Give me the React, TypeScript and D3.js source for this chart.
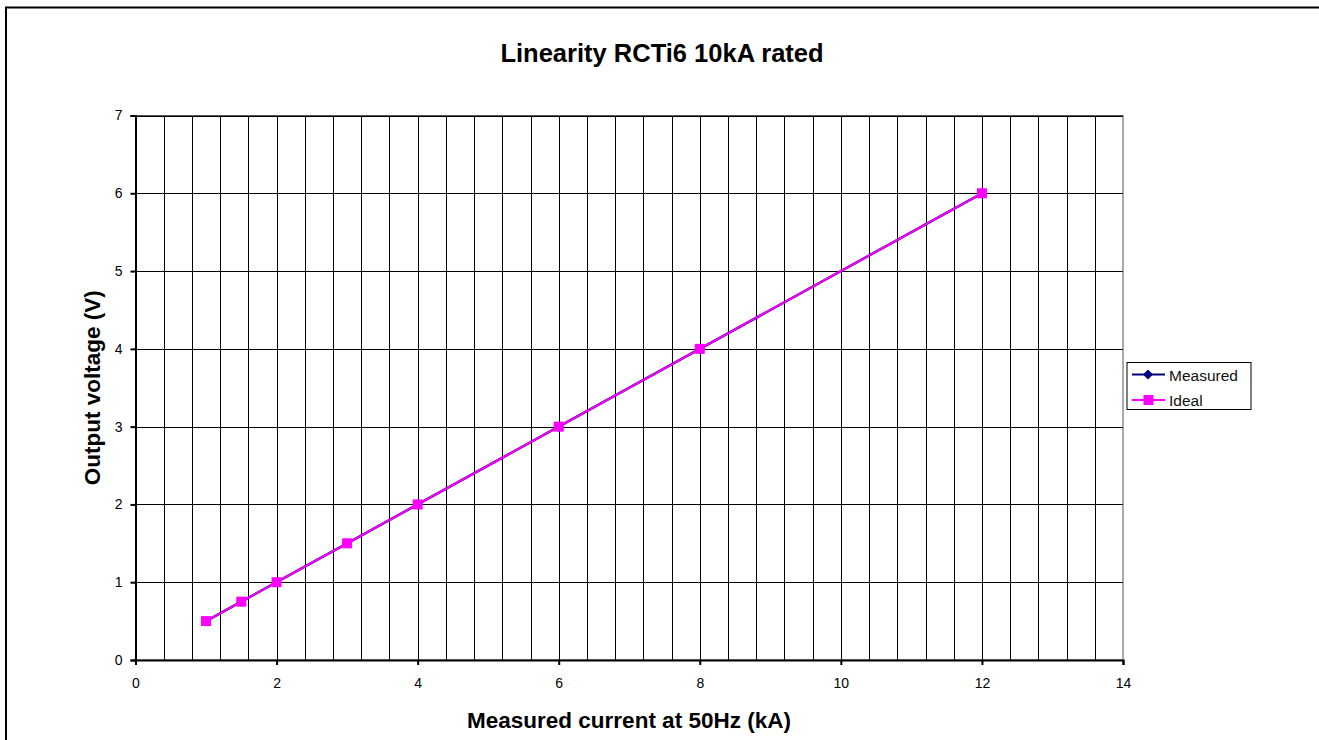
import React, { useEffect, useRef } from "react";
import * as d3 from "d3";

const currentKA = [1, 1.5, 2, 3, 4, 6, 8, 12];
const measuredV = [0.5, 0.75, 1, 1.5, 2, 3, 4, 6];
const idealV = [0.5, 0.75, 1, 1.5, 2, 3, 4, 6];
const xTicks = [0, 2, 4, 6, 8, 10, 12, 14];
const yTicks = [0, 1, 2, 3, 4, 5, 6, 7];
const seriesNames = ["Measured", "Ideal"];

const App = () => {
  const svgRef = useRef<SVGSVGElement>(null);

  useEffect(() => {
    const svg = d3.select(svgRef.current);
    svg.selectAll("*").remove();

    const W = 1319, H = 740;
    const left = 135.5, right = 1123, top = 115.5, bottom = 660;
    const font = "Liberation Sans, Arial, sans-serif";

    // outer frame (right and bottom edges run off the picture)
    svg.append("rect")
      .attr("x", 6).attr("y", 7.5).attr("width", W + 20).attr("height", H + 20)
      .attr("fill", "white").attr("stroke", "black").attr("stroke-width", 2);

    const x = d3.scaleLinear().domain([0, 14]).range([left, right]);
    const y = d3.scaleLinear().domain([0, 7]).range([bottom, top]);

    // vertical grid every 0.4
    const vGrid = d3.range(1, 35).map((i) => i * 0.4);
    svg.append("g").selectAll("line").data(vGrid).enter().append("line")
      .attr("x1", (d) => Math.round(x(d)) + 0.5).attr("x2", (d) => Math.round(x(d)) + 0.5)
      .attr("y1", top).attr("y2", bottom)
      .attr("stroke", "black").attr("stroke-width", 1);

    // horizontal grid
    svg.append("g").selectAll("line").data(yTicks.slice(1)).enter().append("line")
      .attr("x1", left).attr("x2", right)
      .attr("y1", (d) => Math.round(y(d)) + 0.5).attr("y2", (d) => Math.round(y(d)) + 0.5)
      .attr("stroke", "black").attr("stroke-width", 1);

    // plot border
    svg.append("rect")
      .attr("x", left).attr("y", top).attr("width", right - left).attr("height", bottom - top)
      .attr("fill", "none").attr("stroke", "#555").attr("stroke-width", 1);

    // axes
    const xAxis = svg.append("g").attr("transform", `translate(0,${bottom})`)
      .call(d3.axisBottom(x).tickValues(xTicks).tickSize(5).tickPadding(13).tickFormat(d3.format("d")));
    const yAxis = svg.append("g").attr("transform", `translate(${left},0)`)
      .call(d3.axisLeft(y).tickValues(yTicks).tickSize(5).tickPadding(8).tickFormat(d3.format("d")));
    [xAxis, yAxis].forEach((a) => {
      a.attr("font-family", font).attr("font-size", 14);
      a.selectAll("text").attr("fill", "black").style("font-size", "14px").style("font-family", font);
      a.selectAll("path,line").attr("stroke", "black").attr("stroke-width", 2);
    });

    const pts = (vals: number[]) => currentKA.map((c, i) => [c, vals[i]] as [number, number]);
    const line = d3.line<[number, number]>().x((d) => x(d[0])).y((d) => y(d[1]));

    // measured
    svg.append("path").datum(pts(measuredV))
      .attr("d", line).attr("fill", "none").attr("stroke", "#000080").attr("stroke-width", 2.5);
    const diamond = d3.symbol().type(d3.symbolDiamond2).size(64);
    svg.append("g").selectAll("path").data(pts(measuredV)).enter().append("path")
      .attr("d", diamond).attr("transform", (d) => `translate(${x(d[0])},${y(d[1])})`)
      .attr("fill", "#000080");

    // ideal
    svg.append("path").datum(pts(idealV))
      .attr("d", line).attr("fill", "none").attr("stroke", "#FF00FF").attr("stroke-width", 2);
    svg.append("g").selectAll("rect").data(pts(idealV)).enter().append("rect")
      .attr("x", (d) => x(d[0]) - 5).attr("y", (d) => y(d[1]) - 5)
      .attr("width", 10).attr("height", 10).attr("fill", "#FF00FF");

    // titles
    svg.append("text").attr("x", 662).attr("y", 62).attr("text-anchor", "middle")
      .attr("font-family", font).attr("font-weight", "bold").attr("font-size", 25.5)
      .text("Linearity RCTi6 10kA rated");
    svg.append("text").attr("x", 629).attr("y", 728).attr("text-anchor", "middle")
      .attr("font-family", font).attr("font-weight", "bold").attr("font-size", 22.5)
      .text("Measured current at 50Hz (kA)");
    svg.append("text").attr("transform", `translate(100,${(top + bottom) / 2}) rotate(-90)`)
      .attr("text-anchor", "middle")
      .attr("font-family", font).attr("font-weight", "bold").attr("font-size", 22.5)
      .text("Output voltage (V)");

    // legend
    const lg = svg.append("g");
    lg.append("rect").attr("x", 1127).attr("y", 362.5).attr("width", 124).attr("height", 47)
      .attr("fill", "white").attr("stroke", "black").attr("stroke-width", 1);
    seriesNames.forEach((name, i) => {
      const ly = 374.5 + i * 25.5;
      const color = i === 0 ? "#000080" : "#FF00FF";
      lg.append("line").attr("x1", 1132).attr("x2", 1165).attr("y1", ly).attr("y2", ly)
        .attr("stroke", color).attr("stroke-width", 2);
      if (i === 0) {
        lg.append("path").attr("d", diamond).attr("transform", `translate(1148,${ly})`).attr("fill", color);
      } else {
        lg.append("rect").attr("x", 1143.5).attr("y", ly - 5).attr("width", 10).attr("height", 10).attr("fill", color);
      }
      lg.append("text").attr("x", 1169).attr("y", ly + 6).attr("font-family", font)
        .attr("font-size", 15.5).attr("fill", "#111").text(name);
    });
  }, []);

  return <svg ref={svgRef} width={1319} height={740} style={{ position: "absolute", left: 0, top: 0 }}></svg>;
};

export default App;
